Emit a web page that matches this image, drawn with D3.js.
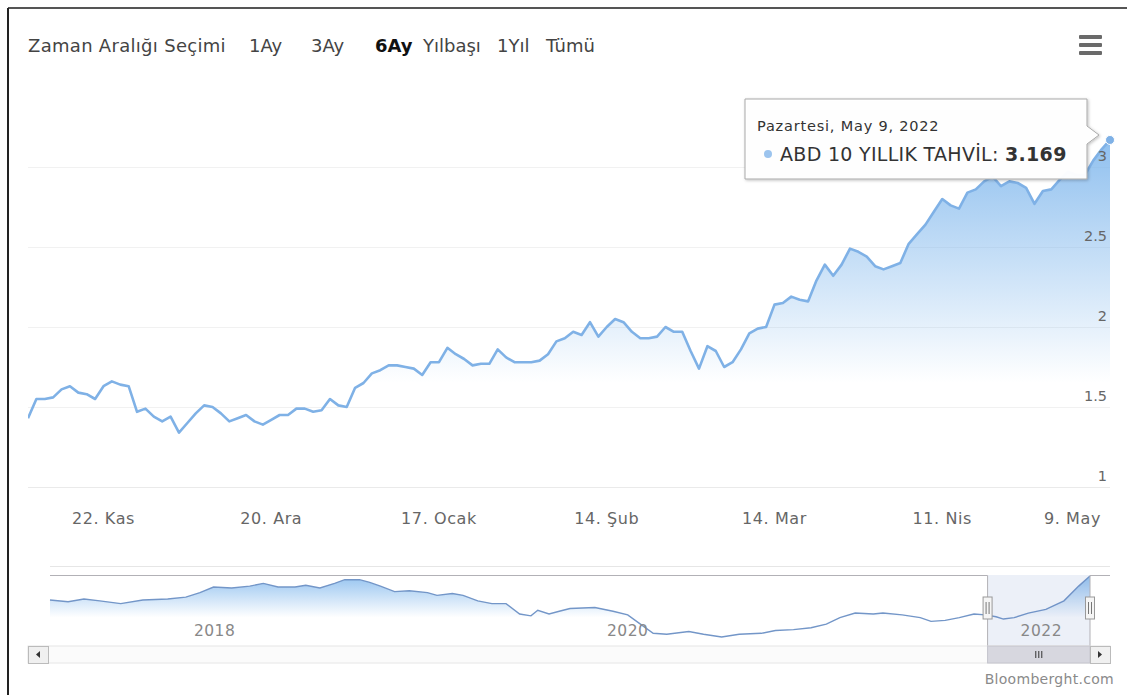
<!DOCTYPE html>
<html>
<head>
<meta charset="utf-8">
<script src="https://cdn.jsdelivr.net/npm/d3@7/dist/d3.min.js"></script>
<style>
body { margin: 0; background: #fff; }
svg text { font-family: "DejaVu Sans", Verdana, sans-serif; }
</style>
</head>
<body>
<svg id="chart" width="1127" height="695"></svg>
<script>
// --- data ---
var seriesName = "ABD 10 YILLIK TAHVİL";
var firstDay = "2021-11-09", lastDay = "2022-05-09";

// one value per trading day (weekdays), 9 Kas 2021 -> 9 May 2022
var yields = [
  1.43, 1.55, 1.55, 1.56, 1.61, 1.63, 1.59, 1.58, 1.55, 1.63,
  1.66, 1.64, 1.63, 1.47, 1.49, 1.44, 1.41, 1.44, 1.34, 1.40,
  1.46, 1.51, 1.50, 1.46, 1.41, 1.43, 1.45, 1.41, 1.39, 1.42,
  1.45, 1.45, 1.49, 1.49, 1.47, 1.48, 1.55, 1.51, 1.50, 1.62,
  1.65, 1.71, 1.73, 1.76, 1.76, 1.75, 1.74, 1.70, 1.78, 1.78,
  1.87, 1.83, 1.80, 1.76, 1.77, 1.77, 1.86, 1.81, 1.78, 1.78,
  1.78, 1.79, 1.83, 1.91, 1.93, 1.97, 1.95, 2.03, 1.94, 2.00,
  2.05, 2.03, 1.97, 1.93, 1.93, 1.94, 2.00, 1.97, 1.97, 1.85,
  1.74, 1.88, 1.85, 1.75, 1.78, 1.86, 1.96, 1.99, 2.00, 2.14,
  2.15, 2.19, 2.17, 2.16, 2.29, 2.39, 2.32, 2.39, 2.49, 2.47,
  2.44, 2.38, 2.36, 2.38, 2.40, 2.52, 2.58, 2.64, 2.72, 2.80,
  2.76, 2.74, 2.84, 2.86, 2.91, 2.94, 2.88, 2.91, 2.90, 2.87,
  2.77, 2.85, 2.86, 2.92, 2.97, 2.95, 2.95, 3.04, 3.11, 3.169
];

var xTickDates = ["2021-11-22", "2021-12-20", "2022-01-17", "2022-02-14", "2022-03-14", "2022-04-11", "2022-05-09"];
var xTickLabels = ["22. Kas", "20. Ara", "17. Ocak", "14. Şub", "14. Mar", "11. Nis", "9. May"];
var yTicks = [1, 1.5, 2, 2.5, 3];

var rangeTitle = "Zaman Aralığı Seçimi";
var rangeButtons = ["1Ay", "3Ay", "6Ay", "Yılbaşı", "1Yıl", "Tümü"];
var rangeSelected = "6Ay";
var dayNames = ["Pazar", "Pazartesi", "Salı", "Çarşamba", "Perşembe", "Cuma", "Cumartesi"];

// navigator (long history)
var navDates = [
  "2017-04-27", "2017-05-29", "2017-06-26", "2017-07-24", "2017-08-30", "2017-10-08", "2017-11-21", "2017-12-23",
  "2018-01-17", "2018-02-10", "2018-03-14", "2018-04-15", "2018-05-09", "2018-06-04", "2018-07-04", "2018-07-23",
  "2018-08-17", "2018-09-12", "2018-09-30", "2018-10-26", "2018-11-13", "2018-12-02", "2018-12-27", "2019-01-22",
  "2019-02-23", "2019-03-12", "2019-04-08", "2019-04-27", "2019-05-23", "2019-06-17", "2019-07-12", "2019-08-05",
  "2019-08-25", "2019-09-06", "2019-09-26", "2019-10-14", "2019-11-02", "2019-12-16", "2020-01-17", "2020-02-12",
  "2020-03-03", "2020-03-28", "2020-04-21", "2020-05-30", "2020-06-25", "2020-07-27", "2020-08-27", "2020-10-05",
  "2020-10-30", "2020-12-01", "2021-01-01", "2021-01-28", "2021-02-21", "2021-03-20", "2021-04-21", "2021-05-08",
  "2021-06-11", "2021-07-13", "2021-08-01", "2021-08-26", "2021-09-20", "2021-10-16", "2021-11-05", "2021-11-24",
  "2021-12-07", "2021-12-26", "2022-01-20", "2022-02-20", "2022-03-24", "2022-04-19", "2022-05-09"
];
var navValues = [
  2.13, 2.05, 2.17, 2.09, 1.97, 2.13, 2.17, 2.25,
  2.45, 2.69, 2.65, 2.73, 2.85, 2.69, 2.69, 2.77,
  2.65, 2.85, 3.01, 3.01, 2.89, 2.73, 2.49, 2.53,
  2.45, 2.33, 2.41, 2.33, 2.09, 1.97, 1.97, 1.52,
  1.44, 1.68, 1.52, 1.64, 1.76, 1.80, 1.64, 1.48,
  1.12, 0.68, 0.64, 0.76, 0.64, 0.52, 0.64, 0.68,
  0.80, 0.84, 0.92, 1.08, 1.36, 1.56, 1.52, 1.56,
  1.48, 1.36, 1.20, 1.24, 1.36, 1.52, 1.48, 1.40,
  1.30, 1.36, 1.56, 1.72, 2.09, 2.73, 3.17
];
var navYears = [2018, 2020, 2022];
var creditText = "Bloomberght.com";

// --- layout ---
var plot = {left: 28, right: 1110, top: 88, bottom: 487},
    nav = {left: 50, right: 1090, top: 575, bottom: 645},
    scroll = {top: 646, height: 17, btn: 20},
    lineColor = "#7fb1e6",
    textColor = "#444",
    labelColor = "#666";

var parseDay = d3.timeParse("%Y-%m-%d");
var days = d3.timeDay.range(parseDay(firstDay), d3.timeDay.offset(parseDay(lastDay), 1))
  .filter(function(d) { return d.getDay() % 6 !== 0; });
var data = days.map(function(d, i) { return {date: d, value: yields[i]}; });
var navData = navDates.map(function(d, i) { return {date: parseDay(d), value: navValues[i]}; });

var svg = d3.select("#chart");

// frame of the scanned page
svg.append("line").attr("x1", 8).attr("x2", 1127).attr("y1", 8).attr("y2", 8)
   .attr("stroke", "#555").attr("stroke-width", 2);
svg.append("line").attr("x1", 8).attr("x2", 8).attr("y1", 8).attr("y2", 695)
   .attr("stroke", "#222").attr("stroke-width", 2);

var defs = svg.append("defs");
var grad = defs.append("linearGradient").attr("id", "areaGrad")
  .attr("x1", 0).attr("y1", 0).attr("x2", 0).attr("y2", 1);
grad.append("stop").attr("offset", 0).attr("stop-color", "#7cb5ec").attr("stop-opacity", 0.85);
grad.append("stop").attr("offset", 0.7).attr("stop-color", "#7cb5ec").attr("stop-opacity", 0);
var navGrad = defs.append("linearGradient").attr("id", "navGrad")
  .attr("x1", 0).attr("y1", 0).attr("x2", 0).attr("y2", 1);
navGrad.append("stop").attr("offset", 0).attr("stop-color", "#7cb5ec").attr("stop-opacity", 0.8);
navGrad.append("stop").attr("offset", 0.6).attr("stop-color", "#7cb5ec").attr("stop-opacity", 0);
var shadow = defs.append("filter").attr("id", "shadow").attr("x", -0.1).attr("y", -0.1).attr("width", 1.3).attr("height", 1.4);
shadow.append("feDropShadow").attr("dx", 1).attr("dy", 1).attr("stdDeviation", 1.5).attr("flood-opacity", 0.25);
defs.append("clipPath").attr("id", "plotClip").append("rect")
  .attr("x", plot.left).attr("y", 0).attr("width", plot.right - plot.left + 4).attr("height", plot.bottom);

// --- scales ---
var x = d3.scaleLinear().domain([0, data.length - 1]).range([plot.left, plot.right]);
var y = d3.scaleLinear().domain([1, 3]).range([plot.bottom, 167]);

// --- range selector ---
svg.append("text").attr("x", 28).attr("y", 52).attr("font-size", 18).attr("fill", textColor)
   .attr("letter-spacing", 0.3)
   .text(rangeTitle);
var btnX = [249, 311, 375, 423, 497, 546];
svg.selectAll(".rbtn").data(rangeButtons).enter().append("text")
   .attr("class", "rbtn")
   .attr("x", function(d, i) { return btnX[i]; })
   .attr("y", 52)
   .attr("font-size", 18)
   .attr("font-weight", function(d) { return d === rangeSelected ? "bold" : "normal"; })
   .attr("fill", function(d) { return d === rangeSelected ? "#111" : textColor; })
   .text(function(d) { return d; });

// menu icon
svg.selectAll(".menu").data([0, 1, 2]).enter().append("rect")
   .attr("x", 1079).attr("y", function(d) { return 35 + d * 8; })
   .attr("width", 23).attr("height", 4).attr("rx", 1)
   .attr("fill", "#6a6a6a");

// --- grid & y axis ---
svg.selectAll(".grid").data(yTicks).enter().append("line")
   .attr("x1", plot.left).attr("x2", plot.right)
   .attr("y1", function(d) { return Math.round(y(d)) + 0.5; })
   .attr("y2", function(d) { return Math.round(y(d)) + 0.5; })
   .attr("stroke", "#f1f1f1");

// --- series ---
var area = d3.area().x(function(d, i) { return x(i); }).y0(plot.bottom).y1(function(d) { return y(d.value); });
var line = d3.line().x(function(d, i) { return x(i); }).y(function(d) { return y(d.value); });
var g = svg.append("g").attr("clip-path", "url(#plotClip)");
g.append("path").datum(data).attr("d", area).attr("fill", "url(#areaGrad)");
g.append("path").datum(data).attr("d", line).attr("fill", "none")
 .attr("stroke", lineColor).attr("stroke-width", 2.6).attr("stroke-linejoin", "round");

svg.selectAll(".ylab").data(yTicks).enter().append("text")
   .attr("x", plot.right - 3)
   .attr("y", function(d) { return y(d) - 6; })
   .attr("text-anchor", "end").attr("font-size", 14.5).attr("fill", labelColor)
   .text(function(d) { return d; });

// x axis
svg.append("line").attr("x1", plot.left).attr("x2", plot.right)
   .attr("y1", plot.bottom + 0.5).attr("y2", plot.bottom + 0.5).attr("stroke", "#eaeaea");
var dayKey = d3.timeFormat("%Y-%m-%d");
var dayIndex = days.map(dayKey);
svg.selectAll(".xlab").data(xTickDates).enter().append("text")
   .attr("x", function(d, i) { var px = x(dayIndex.indexOf(d)); return i === xTickDates.length - 1 ? 1101 : px; })
   .attr("y", 524)
   .attr("text-anchor", function(d, i) { return i === xTickDates.length - 1 ? "end" : "middle"; })
   .attr("font-size", 16).attr("letter-spacing", 0.6).attr("fill", labelColor)
   .text(function(d, i) { return xTickLabels[i]; });

// --- hover point + tooltip ---
var last = data[data.length - 1];
var px = x(data.length - 1), py = y(last.value);
svg.append("circle").attr("cx", px).attr("cy", py).attr("r", 4.5)
   .attr("fill", lineColor).attr("stroke", "#fff").attr("stroke-width", 1);

var tip = {left: 745, top: 99, right: 1087, bottom: 179};
var tipPath = "M" + tip.left + "," + tip.top + " H" + tip.right + " V126 L1099,135 L" + tip.right + ",144 V" + tip.bottom +
  " H" + tip.left + " Z";
svg.append("path").attr("d", tipPath).attr("fill", "rgba(255,255,255,0.97)")
   .attr("stroke", "#a9a9a9").attr("stroke-width", 1).attr("filter", "url(#shadow)");
svg.append("text").attr("x", 757).attr("y", 131).attr("font-size", 14.5).attr("letter-spacing", 0.8).attr("fill", "#333")
   .text(dayNames[last.date.getDay()] + ", " + d3.timeFormat("%B %-d, %Y")(last.date));
svg.append("circle").attr("cx", 768).attr("cy", 154).attr("r", 4).attr("fill", "#9cc4ee");
var t2 = svg.append("text").attr("x", 780).attr("y", 161).attr("font-size", 19).attr("letter-spacing", 0.3).attr("fill", "#333");
t2.append("tspan").text(seriesName + ": ");
t2.append("tspan").attr("font-weight", "bold").text(last.value.toFixed(3));

// --- navigator ---
var xn = d3.scaleTime().domain([parseDay(navDates[0]), parseDay(lastDay)]).range([nav.left, nav.right]);
var yn = d3.scaleLinear().domain([0.52, 3.17]).range([637, 576]);

svg.append("line").attr("x1", nav.left).attr("x2", plot.right).attr("y1", 566.5).attr("y2", 566.5)
   .attr("stroke", "#e6e6e6");

var navArea = d3.area().x(function(d) { return xn(d.date); }).y0(nav.bottom).y1(function(d) { return yn(d.value); });
var navLine = d3.line().x(function(d) { return xn(d.date); }).y(function(d) { return yn(d.value); });
svg.append("path").datum(navData).attr("d", navArea).attr("fill", "url(#navGrad)");
svg.append("path").datum(navData).attr("d", navLine).attr("fill", "none")
   .attr("stroke", "#7396c8").attr("stroke-width", 1.4);

var selL = xn(parseDay(firstDay)), selR = xn(parseDay(lastDay));
svg.append("rect").attr("x", selL).attr("y", nav.top).attr("width", selR - selL).attr("height", nav.bottom - nav.top)
   .attr("fill", "rgba(102,133,194,0.12)");

svg.selectAll(".navyear").data(navYears).enter().append("text")
   .attr("x", function(d) { return xn(new Date(d, 0, 1)) + 3; })
   .attr("y", 636).attr("font-size", 15.5).attr("letter-spacing", 0.5).attr("fill", "#888")
   .text(function(d) { return d; });

// outline
svg.append("path")
   .attr("d", "M" + nav.left + "," + (nav.top + 0.5) + " H" + selL + " V" + (scroll.top + scroll.height) +
        " M" + selR + "," + (scroll.top + scroll.height) + " V" + (nav.top + 0.5) + " H" + plot.right)
   .attr("fill", "none").attr("stroke", "#b2b1b6").attr("stroke-width", 1);

// handles
[selL, selR].forEach(function(hx) {
  svg.append("rect").attr("x", hx - 4.5).attr("y", 597).attr("width", 9).attr("height", 22)
     .attr("fill", "#f5f5f5").attr("stroke", "#999");
  svg.append("path").attr("d", "M" + (hx - 1.5) + ",602 V614 M" + (hx + 1.5) + ",602 V614")
     .attr("stroke", "#777").attr("stroke-width", 1);
});

// scrollbar
svg.append("rect").attr("x", plot.left).attr("y", scroll.top).attr("width", plot.right - plot.left).attr("height", scroll.height)
   .attr("fill", "#fbfbfb").attr("stroke", "#e6e6e6");
svg.append("rect").attr("x", selL).attr("y", scroll.top).attr("width", selR - selL).attr("height", scroll.height)
   .attr("fill", "#d7d7df").attr("stroke", "#c4c4cc");
var gx = (selL + selR) / 2;
svg.append("path").attr("d", "M" + (gx - 3) + "," + (scroll.top + 5) + " V" + (scroll.top + 12) +
     " M" + gx + "," + (scroll.top + 5) + " V" + (scroll.top + 12) +
     " M" + (gx + 3) + "," + (scroll.top + 5) + " V" + (scroll.top + 12))
   .attr("stroke", "#333").attr("stroke-width", 1);
[plot.left, plot.right - scroll.btn].forEach(function(bx, i) {
  svg.append("rect").attr("x", bx + 0.5).attr("y", scroll.top + 0.5).attr("width", scroll.btn).attr("height", scroll.height)
     .attr("fill", "#f0f0f0").attr("stroke", "#bbb");
  var cx = bx + scroll.btn / 2, cy = scroll.top + scroll.height / 2;
  var d = i === 0 ? "M" + (cx + 2) + "," + (cy - 3.5) + " L" + (cx - 2) + "," + cy + " L" + (cx + 2) + "," + (cy + 3.5) + "Z"
                  : "M" + (cx - 2) + "," + (cy - 3.5) + " L" + (cx + 2) + "," + cy + " L" + (cx - 2) + "," + (cy + 3.5) + "Z";
  svg.append("path").attr("d", d).attr("fill", "#333");
});

// credits
svg.append("text").attr("x", 1114).attr("y", 684).attr("text-anchor", "end")
   .attr("font-size", 14).attr("letter-spacing", 0.3).attr("fill", "#8a8a8a").text(creditText);
</script>
</body>
</html>
